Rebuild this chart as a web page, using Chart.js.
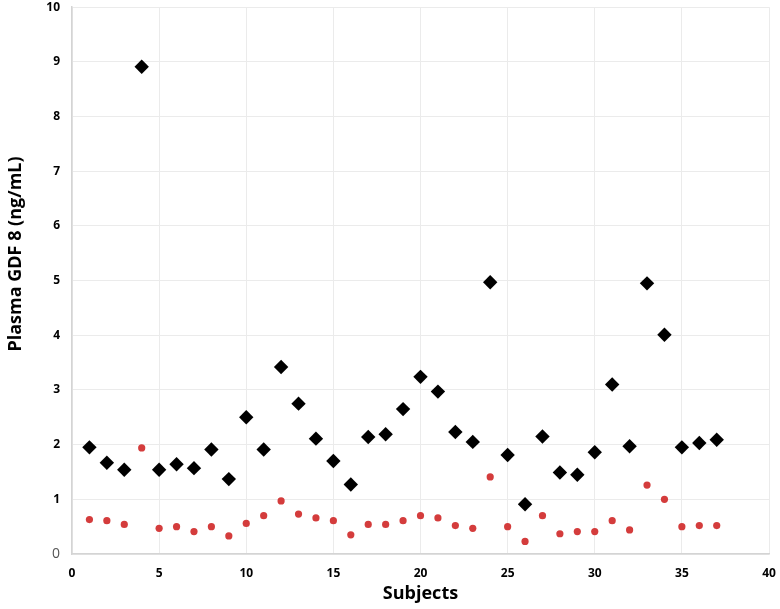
<!DOCTYPE html>
<html>
<head>
<meta charset="utf-8">
<script src="https://cdn.jsdelivr.net/npm/chart.js@4/dist/chart.umd.min.js"></script>
<style>
  html, body { margin: 0; padding: 0; background: #fff; }
  #wrap { width: 780px; height: 609px; }
</style>
</head>
<body>
<div id="wrap"><canvas id="gdf8"></canvas></div>
<script>
// subjects 1..37
const subjects = [1,2,3,4,5,6,7,8,9,10,11,12,13,14,15,16,17,18,19,20,21,22,23,24,25,26,27,28,29,30,31,32,33,34,35,36,37];
// black diamonds
const diamondVals = [1.95,1.67,1.54,8.91,1.54,1.64,1.57,1.91,1.37,2.50,1.91,3.42,2.75,2.11,1.70,1.27,2.14,2.19,2.65,3.24,2.97,2.23,2.05,4.97,1.81,0.91,2.15,1.49,1.45,1.86,3.10,1.97,4.95,4.01,1.95,2.03,2.09];
// red circles
const circleVals = [0.63,0.61,0.54,1.94,0.47,0.50,0.41,0.50,0.33,0.56,0.70,0.97,0.73,0.66,0.61,0.35,0.54,0.54,0.61,0.70,0.66,0.52,0.47,1.41,0.50,0.23,0.70,0.37,0.41,0.41,0.61,0.44,1.26,1.00,0.50,0.52,0.52];

const xTitle = 'Subjects';
const yTitle = 'Plasma GDF 8 (ng/mL)';

function toPoints(vals){
    return subjects.map((s, i) => ({x: s, y: vals[i]}));
}

// y title drawn by hand, it sits a bit above the middle of the axis in the original
const yTitlePlugin = {
    id: 'yTitle',
    afterDraw(chart){
        const ctx = chart.ctx;
        ctx.save();
        ctx.translate(16, 254);
        ctx.rotate(-Math.PI / 2);
        ctx.font = 'bold 18px "Open Sans"';
        ctx.fillStyle = '#000';
        ctx.textAlign = 'center';
        ctx.textBaseline = 'middle';
        ctx.fillText(yTitle, 0, 0);
        ctx.restore();
    }
};

new Chart(document.getElementById('gdf8'), {
    type: 'scatter',
    data: {
        datasets: [
            {
                label: 'diamonds',
                data: toPoints(diamondVals),
                pointStyle: 'rectRot',
                pointRadius: 7.2,
                pointHoverRadius: 7.2,
                backgroundColor: '#000',
                borderColor: '#000',
                borderWidth: 0
            },
            {
                label: 'circles',
                data: toPoints(circleVals),
                pointStyle: 'circle',
                pointRadius: 3.6,
                pointHoverRadius: 3.6,
                backgroundColor: '#d43c3c',
                borderColor: '#d43c3c',
                borderWidth: 0
            }
        ]
    },
    options: {
        responsive: true,
        maintainAspectRatio: false,
        animation: false,
        layout: { padding: { top: 5, right: 11, left: 0, bottom: 0 } },
        plugins: {
            legend: { display: false },
            tooltip: { enabled: false }
        },
        scales: {
            x: {
                type: 'linear',
                min: 0,
                max: 40,
                ticks: {
                    stepSize: 5,
                    color: '#000',
                    font: { family: 'Open Sans', size: 12, weight: 'bold' },
                    padding: 12
                },
                grid: { color: '#ebebeb', drawTicks: false },
                border: { color: '#d4d4d4', width: 1.5 },
                title: {
                    display: true,
                    text: xTitle,
                    color: '#000',
                    font: { family: 'Open Sans', size: 18, weight: 'bold' },
                    padding: { top: 0 }
                },
                afterFit(scale){
                    scale.height = 55;
                    scale.paddingLeft = 0;
                    scale.paddingRight = 0;
                }
            },
            y: {
                min: 0,
                max: 10,
                ticks: {
                    stepSize: 1,
                    color: (c) => c.tick && c.tick.value === 0 ? '#555' : '#000',
                    font: (c) => c.tick && c.tick.value === 0
                        ? { family: 'Open Sans', size: 14, weight: 'normal' }
                        : { family: 'Open Sans', size: 12, weight: 'bold' },
                    padding: 12
                },
                grid: { color: '#ebebeb', drawTicks: false },
                border: { color: '#d4d4d4', width: 1.5 },
                afterFit(scale){
                    scale.width = 72;
                    scale.paddingTop = 0;
                    scale.paddingBottom = 0;
                }
            }
        }
    },
    plugins: [yTitlePlugin]
});
</script>
</body>
</html>
